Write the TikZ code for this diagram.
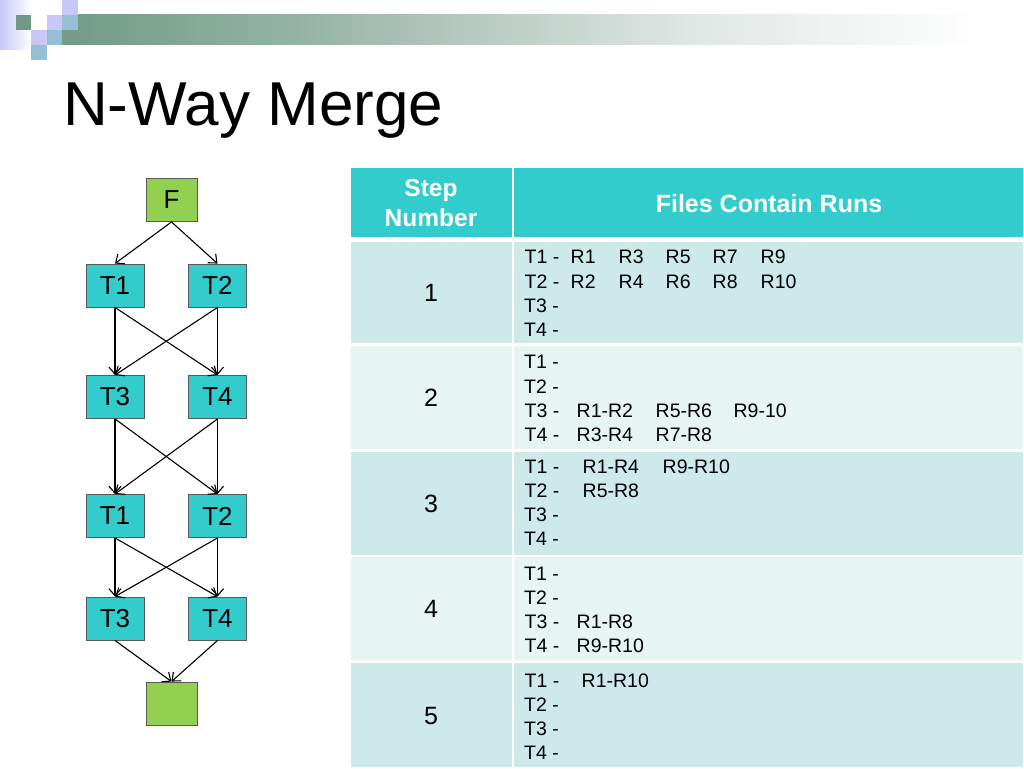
\documentclass[tikz,border=0pt]{standalone}
\usepackage{fontspec}
\setmainfont{Liberation Sans}
\usetikzlibrary{arrows.meta}
\definecolor{cyanbox}{RGB}{51,204,204}
\definecolor{greenbox}{RGB}{146,208,80}
\definecolor{hdr}{RGB}{51,204,204}
\definecolor{rowodd}{RGB}{205,233,233}
\definecolor{roweven}{RGB}{231,244,244}
\definecolor{decoG}{RGB}{112,152,132}
\definecolor{decoL}{RGB}{200,200,246}
\definecolor{decoB}{RGB}{150,190,212}
\definecolor{gA}{RGB}{116,156,136}
\definecolor{gB}{RGB}{150,180,166}
\definecolor{gC}{RGB}{226,232,230}
\pgfdeclarehorizontalshading{barshade}{100bp}{color(0bp)=(gA); color(25bp)=(gA); color(37bp)=(gB); color(58bp)=(gC); color(73bp)=(white); color(100bp)=(white)}
\newcommand\tk[2]{\rlap{\hspace{#1pt}#2}}
\begin{document}
\begin{tikzpicture}[x=1pt,y=-1pt,
  tbox/.style={draw=black!65, line width=0.9pt, fill=cyanbox, minimum width=58pt, minimum height=43pt, inner sep=0pt, font=\fontsize{26}{30}\selectfont},
  gbox/.style={draw=black!65, line width=0.9pt, fill=greenbox, minimum width=51pt, minimum height=43pt, inner sep=0pt, font=\fontsize{26}{30}\selectfont},
  arr/.style={line width=1.1pt, -{Straight Barb[length=7pt,width=12pt]}},
  body/.style={anchor=base west, inner sep=0pt, font=\fontsize{19.5}{22}\selectfont},
  num/.style={inner sep=0pt, font=\fontsize{25}{28}\selectfont},
  hd/.style={inner sep=0pt, text=white, font=\fontsize{25}{30}\selectfont\bfseries, align=center}]
\useasboundingbox (0,0) rectangle (1024,768);
\fill[white] (0,0) rectangle (1024,768);
% decoration
\shade[left color=decoL, right color=white] (0,0) rectangle (32,50);
\shade[shading=barshade] (77.5,15) rectangle (1024,45);
\fill[decoG] (15.5,15) rectangle (31,30);
\fill[decoL] (31,30) rectangle (46.5,45);
\fill[decoB] (31,45) rectangle (46.5,60);
\fill[decoL] (46.5,15) rectangle (62,30);
\fill[decoB] (46.5,30) rectangle (62,45);
\fill[decoL] (62,0) rectangle (77.5,15);
\fill[decoB] (62,15) rectangle (77.5,30);
\fill[gA] (62,30) rectangle (77.5,45);
% title
\node[anchor=base west, inner sep=0pt, font=\fontsize{62}{70}\selectfont] (title) at (63,125) {N-Way Merge};
% tree
\node[gbox] (F) at (171.5,200) {F};
\node[tbox] (T1a) at (115,285.5) {T1};
\node[tbox] (T2a) at (217.5,285.5) {T2};
\node[tbox] (T3a) at (115,397) {T3};
\node[tbox] (T4a) at (217.5,397) {T4};
\node[tbox] (T1b) at (115,516) {T1};
\node[tbox] (T2b) at (217.5,516) {T2};
\node[tbox] (T3b) at (115,618.5) {T3};
\node[tbox] (T4b) at (217.5,618.5) {T4};
\node[gbox] (G) at (171.5,703.5) {};
\draw[arr] (F.south) -- (T1a.north);
\draw[arr] (F.south) -- (T2a.north);
\draw[arr] (T1a.south) -- (T3a.north);
\draw[arr] (T1a.south) -- (T4a.north);
\draw[arr] (T2a.south) -- (T3a.north);
\draw[arr] (T2a.south) -- (T4a.north);
\draw[arr] (T3a.south) -- (T1b.north);
\draw[arr] (T3a.south) -- (T2b.north);
\draw[arr] (T4a.south) -- (T1b.north);
\draw[arr] (T4a.south) -- (T2b.north);
\draw[arr] (T1b.south) -- (T3b.north);
\draw[arr] (T1b.south) -- (T4b.north);
\draw[arr] (T2b.south) -- (T3b.north);
\draw[arr] (T2b.south) -- (T4b.north);
\draw[arr] (T3b.south) -- (G.north);
\draw[arr] (T4b.south) -- (G.north);
% table
\fill[hdr] (351,168) rectangle (512,237);
\fill[hdr] (514,168) rectangle (1023,237);
\fill[rowodd] (351,242) rectangle (512,343);
\fill[rowodd] (514,242) rectangle (1023,343);
\fill[roweven] (351,346) rectangle (512,449);
\fill[roweven] (514,346) rectangle (1023,449);
\fill[rowodd] (351,452) rectangle (512,555);
\fill[rowodd] (514,452) rectangle (1023,555);
\fill[roweven] (351,557) rectangle (512,660);
\fill[roweven] (514,557) rectangle (1023,660);
\fill[rowodd] (351,663) rectangle (512,767);
\fill[rowodd] (514,663) rectangle (1023,767);
\node[hd, font=\fontsize{24.5}{30}\selectfont\bfseries] (hstep) at (431,203) {Step\\Number};
\node[hd] (hfiles) at (769,204) {Files Contain Runs};
\node[num] (n1) at (431,293) {1};
\node[num] (n2) at (431,398) {2};
\node[num] (n3) at (431,504) {3};
\node[num] (n4) at (431,609) {4};
\node[num] (n5) at (431,716) {5};
% row 1
\node[body] (r1a) at (524,263) {\tk{0}{T1 -}\tk{46}{R1}\tk{94}{R3}\tk{141}{R5}\tk{188}{R7}\tk{236}{R9}};
\node[body] (r1b) at (524,288) {\tk{0}{T2 -}\tk{46}{R2}\tk{94}{R4}\tk{141}{R6}\tk{188}{R8}\tk{236}{R10}};
\node[body] (r1c) at (524,312) {T3 -};
\node[body] (r1d) at (524,336) {T4 -};
% row 2
\node[body] (r2a) at (524,368) {T1 -};
\node[body] (r2b) at (524,393) {T2 -};
\node[body] (r2c) at (524,417) {\tk{0}{T3 -}\tk{52}{R1-R2}\tk{131}{R5-R6}\tk{209}{R9-10}};
\node[body] (r2d) at (524,441) {\tk{0}{T4 -}\tk{52}{R3-R4}\tk{131}{R7-R8}};
% row 3
\node[body] (r3a) at (524,473) {\tk{0}{T1 -}\tk{58}{R1-R4}\tk{138}{R9-R10}};
\node[body] (r3b) at (524,497) {\tk{0}{T2 -}\tk{58}{R5-R8}};
\node[body] (r3c) at (524,521) {T3 -};
\node[body] (r3d) at (524,545) {T4 -};
% row 4
\node[body] (r4a) at (524,580) {T1 -};
\node[body] (r4b) at (524,604) {T2 -};
\node[body] (r4c) at (524,628) {\tk{0}{T3 -}\tk{52}{R1-R8}};
\node[body] (r4d) at (524,652) {\tk{0}{T4 -}\tk{52}{R9-R10}};
% row 5
\node[body] (r5a) at (524,687) {\tk{0}{T1 -}\tk{57}{R1-R10}};
\node[body] (r5b) at (524,711) {T2 -};
\node[body] (r5c) at (524,735) {T3 -};
\node[body] (r5d) at (524,759) {T4 -};
\end{tikzpicture}
\end{document}
